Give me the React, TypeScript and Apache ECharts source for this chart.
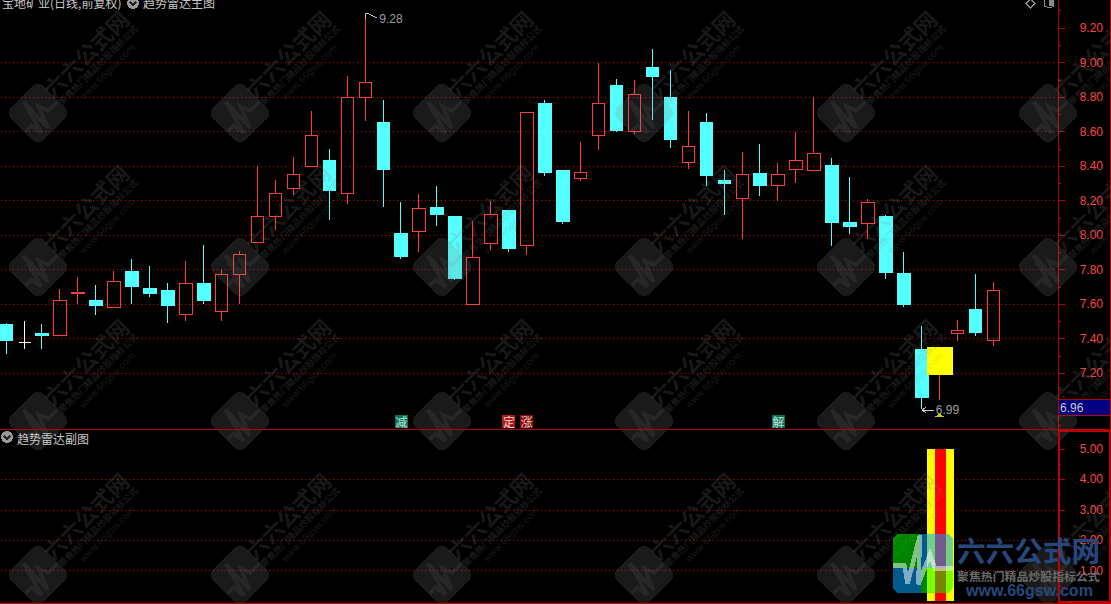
import React, { useEffect, useRef } from "react";
import * as echarts from "echarts";

const opens = [7.48,7.38,7.43,7.42,7.66,7.62,7.58,7.79,7.69,7.68,7.54,7.72,7.56,7.77,7.96,8.11,8.27,8.40,8.43,8.24,8.80,8.655,8.01,8.02,8.16,8.105,7.60,7.95,8.145,7.94,8.765,8.375,8.33,8.58,8.865,8.60,8.97,8.795,8.42,8.655,8.315,8.21,8.355,8.29,8.38,8.375,8.405,8.075,8.07,8.105,7.775,7.335,7.19,7.43,7.57,7.39];
const closes = [7.39,7.38,7.42,7.62,7.67,7.59,7.73,7.70,7.66,7.59,7.72,7.62,7.77,7.89,8.11,8.24,8.35,8.58,8.26,8.80,8.885,8.38,7.875,8.155,8.12,7.75,7.87,8.12,7.925,8.71,8.365,8.08,8.365,8.765,8.605,8.815,8.92,8.555,8.515,8.345,8.30,8.35,8.285,8.35,8.43,8.475,8.075,8.05,8.19,7.785,7.60,7.06,7.35,7.445,7.435,7.68];
const lows = [7.31,7.34,7.34,7.42,7.60,7.54,7.58,7.60,7.64,7.49,7.50,7.60,7.50,7.60,7.96,8.03,8.23,8.40,8.09,8.18,8.66,8.165,7.86,7.90,8.055,7.74,7.60,7.915,7.90,7.885,8.345,8.065,8.315,8.495,8.60,8.585,8.665,8.505,8.385,8.285,8.115,7.98,8.225,8.20,8.30,8.375,7.935,8.005,7.98,7.745,7.585,6.99,7.045,7.385,7.415,7.355];
const highs = [7.49,7.50,7.485,7.69,7.76,7.71,7.79,7.86,7.82,7.72,7.85,7.94,7.80,7.91,8.40,8.32,8.45,8.72,8.50,8.92,9.28,8.78,8.19,8.24,8.285,8.11,8.08,8.20,8.145,8.71,8.78,8.38,8.54,9.00,8.905,8.90,9.08,8.955,8.72,8.71,8.375,8.48,8.53,8.42,8.60,8.80,8.445,8.335,8.21,8.115,7.90,7.475,7.35,7.51,7.775,7.73];
const categories = opens.map((_, i) => String(i)).concat(["56", "57", "58"]);

const signalIndex = 52;
const signalBoxLow = 7.19;
const signalBoxHigh = 7.35;
const subOuterValue = 5;
const subInnerValue = 5;

const highMark = { index: 20, value: 9.28 };
const lowMark = { index: 51, value: 6.99 };
const lastPrice = "6.96";
const badges = [
  { index: 22, text: "减", color: "#00906A" },
  { index: 28, text: "定", color: "#D82020" },
  { index: 29, text: "涨", color: "#B00808" },
  { index: 43, text: "解", color: "#00906A" },
];
const badgeLevel = 6.92;
const yellowCapLevel = 6.955;

const titleMain = "宝地矿业(日线,前复权)";
const titleFormula = "趋势雷达主图";
const titleSub = "趋势雷达副图";
const wmColumns = [38, 240, 442, 644, 846, 1048];
const wmRows = [-41, 113, 267, 421, 575];

const FONT = '"Liberation Sans", Arial, sans-serif';
const CJK = '"Noto Sans CJK SC", sans-serif';
const RED = "#FF4040";
const AXIS = "#B80000";
const CYAN = "#54FFFF";
const GREY = "#C8C8C8";

const bandWidth = 17.95;
const gridLeft = 6.3 - bandWidth / 2;
const gridWidth = bandWidth * categories.length;
const axisOffset = 1058 - (gridLeft + gridWidth);
const subGridLeft = gridLeft + 0.7;
const subAxisOffset = axisOffset - 0.7;
const dotLine = { color: "#D00000", type: [1, 3], dashOffset: 0.325, width: 1 };

function watermark(cx: number, cy: number) {
  const fill = "rgba(128,128,128,0.2)";
  const pulse = [[-30,6],[-19,6],[-16,23],[-3,-25],[-5,24],[7,-6],[12,8],[30,8]].map((p) => [p[0] * 0.72, p[1] * 0.72]);
  const z = 50;
  return [
    { type: "group", x: cx, y: cy, rotation: Math.PI / 4, children: [
      { type: "rect", z, shape: { x: -23, y: -23, width: 46, height: 46, r: 8 }, style: { fill } },
      { type: "polyline", z, shape: { points: pulse }, style: { stroke: "rgba(128,128,128,0.13)", lineWidth: 4, fill: "none" } },
    ] },
    { type: "text", z, x: cx + 47, y: cy - 60, rotation: Math.PI / 4, style: { text: "六六公式网", fill, font: `bold 22px ${CJK}`, textAlign: "center", textVerticalAlign: "middle" } },
    { type: "text", z, x: cx + 60, y: cy - 48, rotation: Math.PI / 4, style: { text: "聚焦热门精品炒股指标公式", fill, font: `bold 9px ${CJK}`, textAlign: "center", textVerticalAlign: "middle" } },
    { type: "text", z, x: cx + 69, y: cy - 41, rotation: Math.PI / 4, style: { text: "www.66gsw.com", fill, font: `10px ${FONT}`, textAlign: "center", textVerticalAlign: "middle" } },
  ];
}

function logo() {
  const z = 70;
  const g = "rgba(0,255,0,0.52)";
  const b = "rgba(0,165,255,0.55)";
  const w = "rgba(255,255,255,0.5)";
  const pts = [[25,122],[58,122],[68,175],[105,30],[100,178],[135,88],[150,130],[205,130]].map((p) => [885 + p[0] / 3, 525 + p[1] / 3]);
  return [
    { type: "rect", z, shape: { x: 893, y: 534, width: 27, height: 34, r: [7, 0, 0, 0] }, style: { fill: g } },
    { type: "rect", z, shape: { x: 920, y: 534, width: 33, height: 34, r: [0, 7, 0, 0] }, style: { fill: b } },
    { type: "rect", z, shape: { x: 893, y: 568, width: 28, height: 25, r: [0, 0, 0, 7] }, style: { fill: b } },
    { type: "rect", z, shape: { x: 921, y: 568, width: 32, height: 25, r: [0, 0, 7, 0] }, style: { fill: g } },
    { type: "polyline", z: z + 1, shape: { points: pts }, style: { stroke: w, lineWidth: 4.5, fill: "none" } },
    { type: "text", z, x: 957, y: 549, style: { text: "六六公式网", fill: "#27477C", font: `bold 28.6px ${CJK}`, textVerticalAlign: "middle" } },
    { type: "text", z, x: 957, y: 575, style: { text: "聚焦热门精品炒股指标公式", fill: "#6A6A6A", font: `bold 11.9px ${CJK}`, textVerticalAlign: "middle" } },
    { type: "text", z, x: 966, y: 590, style: { text: "www.66gsw.com", fill: "#27477C", font: `bold 16px ${FONT}`, textVerticalAlign: "middle" } },
  ];
}

function chevron(cx: number, cy: number) {
  const z = 60;
  return [
    { type: "circle", z, shape: { cx, cy, r: 6 }, style: { fill: "#9A9A9A" } },
    { type: "polyline", z: z + 1, shape: { points: [[cx - 3, cy - 1], [cx, cy + 2], [cx + 3, cy - 1]] }, style: { stroke: "#222", lineWidth: 1.5, fill: "none" } },
  ];
}

function chrome() {
  const z = 60;
  const line = (x1: number, y1: number, x2: number, y2: number, color = AXIS, w = 1) => ({
    type: "line", z, shape: { x1, y1, x2, y2 }, style: { stroke: color, lineWidth: w },
  });
  const header = (x: number, y: number, text: string) => ({
    type: "text", z, x, y, style: { text, fill: GREY, font: `12px ${CJK}`, textVerticalAlign: "middle" },
  });
  return [
    line(0, 429.5, 1111, 429.5),
    line(1110.5, 0, 1110.5, 430),
    line(0, 603.5, 1111, 603.5),
    { type: "rect", z, shape: { x: 1059, y: 431, width: 51, height: 171 }, style: { fill: "none", stroke: "#C00000", lineWidth: 2 } },
    { type: "rect", z, shape: { x: 1058.5, y: 399.5, width: 52, height: 16 }, style: { fill: "#000080", stroke: "#B00000", lineWidth: 1 } },
    { type: "text", z: z + 1, x: 1060, y: 407.5, style: { text: lastPrice, fill: GREY, font: `12px ${FONT}`, textVerticalAlign: "middle" } },
    header(2, 2, titleMain),
    ...chevron(133, 3),
    header(143, 2, titleFormula),
    ...chevron(7, 437),
    header(17, 438, titleSub),
    { type: "polygon", z, shape: { points: [[1030.5, -1], [1035, 3.5], [1030.5, 8], [1026, 3.5]] }, style: { fill: "none", stroke: "#8A8A8A" } },
    { type: "rect", z, shape: { x: 1044.5, y: -3, width: 9, height: 10, r: 2 }, style: { fill: "none", stroke: "#8A8A8A" } },
    { type: "rect", z, shape: { x: 1049, y: 0, width: 4, height: 6 }, style: { fill: "#8A8A8A" } },
    { type: "polyline", z, shape: { points: [[365.5, 18], [365.5, 14], [368, 13.5], [377, 18]] }, style: { stroke: GREY, fill: "none" } },
    { type: "polyline", z, shape: { points: [[926, 407], [922.5, 410], [926, 413]] }, style: { stroke: GREY, fill: "none" } },
    { type: "line", z, shape: { x1: 922.5, y1: 410.5, x2: 934, y2: 410.5 }, style: { stroke: GREY } },
  ];
}

export default function App() {
  const ref = useRef<HTMLDivElement>(null);
  useEffect(() => {
    document.body.style.margin = "0";
    document.body.style.background = "#000";
    const crisp = document.createElement("style");
    crisp.textContent = "svg path{shape-rendering:crispEdges}";
    document.head.appendChild(crisp);
    const chart = echarts.init(ref.current!, null, { renderer: "svg" });
    const empty = ["-", "-", "-", "-"];
    const markSeries = (m: { index: number; value: number }, offset: number[]) => ({
      type: "scatter", xAxisIndex: 0, yAxisIndex: 0, symbolSize: 0, z: 8,
      data: [[m.index, m.value]],
      label: { show: true, position: "right", distance: 0, offset, formatter: m.value.toFixed(2), color: GREY, font: `12px ${FONT}` },
    });
    chart.setOption({
      animation: false,
      backgroundColor: "#000000",
      grid: [
        { left: gridLeft, width: gridWidth, top: 28 - 0.2 * 172.6, height: 2.6 * 172.6, outerBoundsMode: "none" },
        { left: subGridLeft, width: gridWidth, top: 449, height: 152, outerBoundsMode: "none" },
      ],
      xAxis: [
        { type: "category", gridIndex: 0, data: categories, show: false },
        { type: "category", gridIndex: 1, data: categories, show: false },
        { type: "category", gridIndex: 1, data: categories, show: false },
      ],
      yAxis: [
        {
          type: "value", gridIndex: 0, position: "right", offset: axisOffset, min: 6.8, max: 9.4, interval: 0.2, scale: true,
          axisLine: { show: true, onZero: false, lineStyle: { color: AXIS } },
          axisTick: { show: true, length: 7, inside: false, lineStyle: { color: AXIS }, customValues: [7, 7.2, 7.4, 7.6, 7.8, 8, 8.2, 8.4, 8.6, 8.8, 9, 9.2] },
          minorTick: { show: true, splitNumber: 2, length: 3, lineStyle: { color: AXIS } },
          axisLabel: {
            margin: 45, align: "right", color: RED, fontFamily: FONT, fontSize: 12,
            formatter: (v: number) => (v >= 7.1 && v <= 9.3 ? v.toFixed(2) : ""),
          },
          splitLine: { show: true, showMinLine: false, showMaxLine: false, lineStyle: dotLine },
        },
        {
          type: "value", gridIndex: 1, position: "right", offset: subAxisOffset, min: 0, max: 5, interval: 1,
          axisLine: { show: false },
          axisTick: { show: true, length: 7, lineStyle: { color: AXIS } },
          minorTick: { show: true, splitNumber: 2, length: 3, lineStyle: { color: AXIS } },
          axisLabel: {
            margin: 45, align: "right", color: RED, fontFamily: FONT, fontSize: 12,
            formatter: (v: number) => (v > 0 ? v.toFixed(2) : ""),
          },
          splitLine: { show: true, showMinLine: false, showMaxLine: false, lineStyle: { ...dotLine, dashOffset: 0.625 } },
        },
      ],
      series: [
        {
          type: "candlestick", xAxisIndex: 0, yAxisIndex: 0, barWidth: 13, z: 3,
          itemStyle: { color: "rgba(0,0,0,0)", color0: CYAN, borderColor: "#FF3C3C", borderColor0: CYAN, borderColorDoji: "#FFFFFF", borderWidth: 1 },
          data: opens.map((o, i) => [o, closes[i], lows[i], highs[i]]),
        },
        {
          type: "candlestick", xAxisIndex: 0, yAxisIndex: 0, barWidth: 27, z: 4,
          itemStyle: { color: "#FFFF00", color0: "#FFFF00", borderColor: "#FFFF00", borderColor0: "#FFFF00", borderWidth: 0 },
          data: categories.map((_, i) => (i === signalIndex ? [signalBoxLow, signalBoxHigh, signalBoxLow, signalBoxHigh] : empty)),
        },
        {
          type: "bar", xAxisIndex: 1, yAxisIndex: 1, barWidth: 27, z: 3, itemStyle: { color: "#FFFF00" },
          data: categories.map((_, i) => (i === signalIndex ? subOuterValue : null)),
        },
        {
          type: "bar", xAxisIndex: 2, yAxisIndex: 1, barWidth: 11, z: 4, itemStyle: { color: "#FF0000" },
          data: categories.map((_, i) => (i === signalIndex ? subInnerValue : null)),
        },
        {
          type: "scatter", xAxisIndex: 0, yAxisIndex: 0, symbol: "rect", symbolSize: 13, z: 6,
          data: badges.map((b) => ({ value: [b.index, badgeLevel], itemStyle: { color: b.color }, label: { formatter: b.text } })),
          label: { show: true, position: "inside", color: "#FFFFFF", fontFamily: CJK, fontSize: 12 },
        },
        {
          type: "scatter", xAxisIndex: 0, yAxisIndex: 0, symbol: "triangle", symbolSize: [11, 3.5], z: 6,
          itemStyle: { color: "#FFFF00" },
          data: [[signalIndex, yellowCapLevel]],
        },
        markSeries(highMark, [14, 5]),
        markSeries(lowMark, [14, 0.5]),
      ],
      graphic: { elements: [
        ...chrome(),
        ...wmRows.flatMap((y) => wmColumns.flatMap((x) => watermark(x, y))),
        ...logo(),
      ] },
    });
    return () => { chart.dispose(); crisp.remove(); };
  }, []);
  return <div ref={ref} style={{ position: "absolute", left: 0, top: 0, width: 1111, height: 604 }} />;
}
